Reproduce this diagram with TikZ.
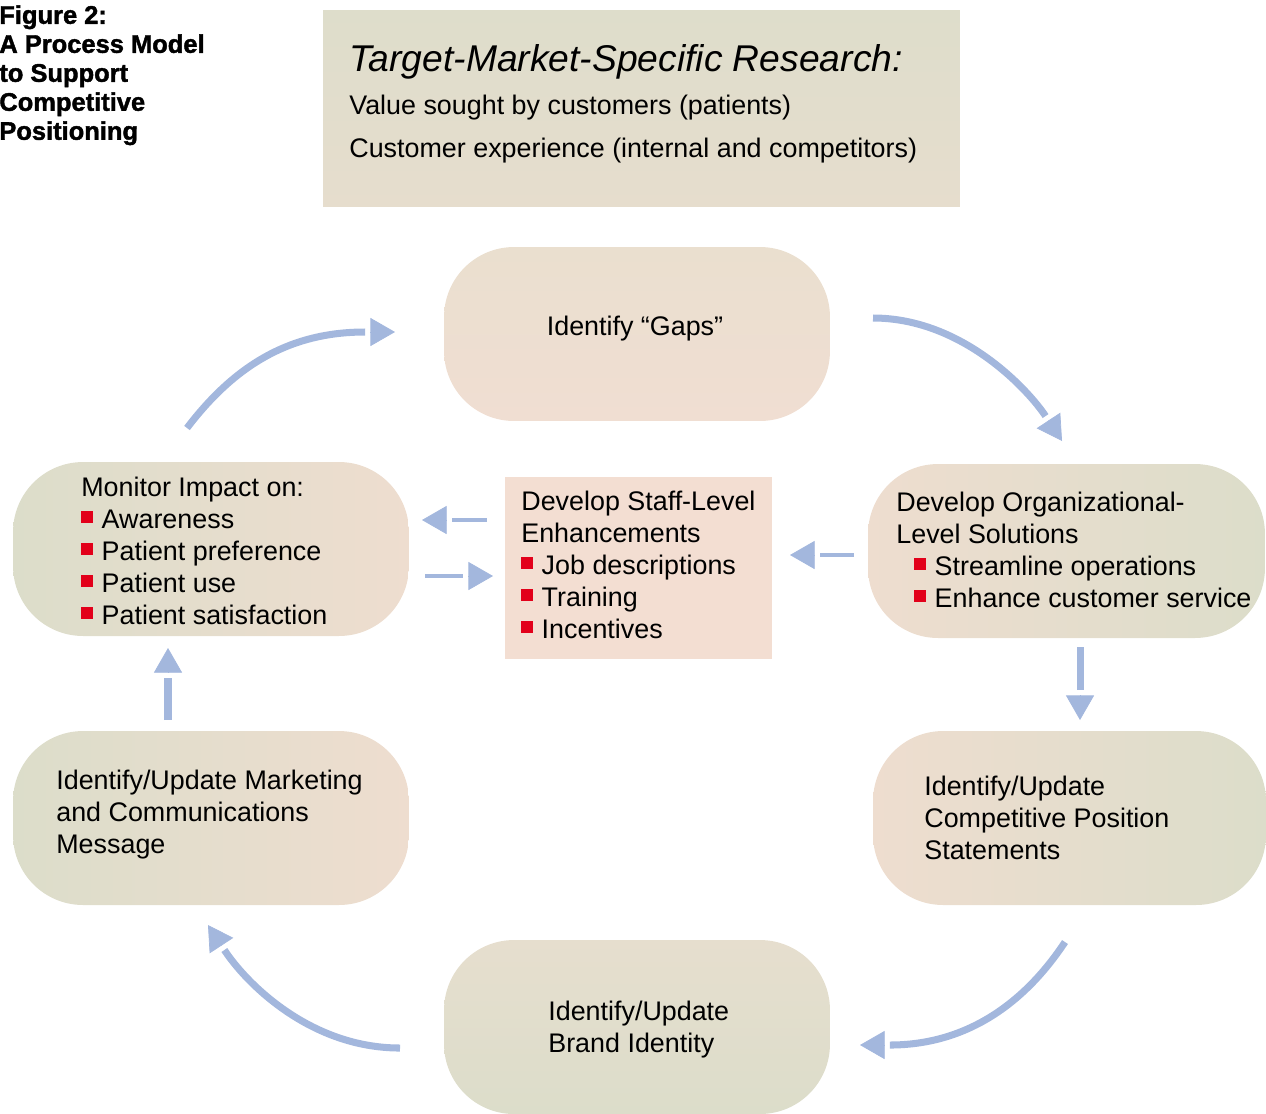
\documentclass[tikz,border=0pt]{standalone}
\usepackage{fontspec}
\setmainfont{Liberation Sans}
\newfontfamily\capfont{Liberation Sans Bold}[FakeBold=1.6]
\usetikzlibrary{arrows.meta,calc}

\definecolor{sage}{RGB}{220,221,202}
\definecolor{blush}{RGB}{238,221,207}
\definecolor{peach}{RGB}{243,222,210}
\definecolor{flowblue}{RGB}{163,183,221}
\definecolor{bulred}{RGB}{226,0,26}

\newcommand{\sqbul}{{\color{bulred}\rule[3.4pt]{6.6pt}{6.6pt}}\hspace{5pt}}

\begin{document}
\begin{tikzpicture}[x=0.02cm, y=-0.02cm,
    stage/.style={rounded corners=1.4cm, minimum width=7.72cm, minimum height=3.48cm, inner sep=0},
    txt/.style={font=\fontsize{15.3}{18.2}\selectfont, align=left, inner sep=0, anchor=west},
    cycleline/.style={draw=flowblue, line width=4pt, shorten >=17pt},
    sideline/.style={cycleline, line width=2.3pt},
    flowhead/.style={draw=flowblue, fill=flowblue, line width=0.4pt, -{Triangle[length=14pt, width=16pt]}}]
    \useasboundingbox (0,0) rectangle (1266,1113);

    % Caption
    \node[anchor=north west, inner sep=0, align=left, font=\capfont\fontsize{14.5}{16.5}\selectfont] (caption) at (-1,5)
        {Figure 2:\\A Process Model\\to Support\\Competitive\\Positioning};

    % Research box
    \node[minimum width=12.74cm, minimum height=3.94cm, inner sep=0, top color={rgb,255:red,222;green,221;blue,203}, bottom color={rgb,255:red,230;green,221;blue,205}] (research) at (641.5,108.5) {};
    \node[txt, font=\fontsize{15.3}{24.4}\selectfont] (researchtxt) at (349,104)
        {{\itshape\fontsize{21.2}{24}\selectfont Target-Market-Specific Research:}\\Value sought by customers (patients)\\Customer experience (internal and competitors)};

    % Process stages
    \node[stage, top color={rgb,255:red,234;green,223;blue,207}, bottom color={rgb,255:red,240;green,222;blue,210}] (gaps) at (637,334) {};
    \node[stage, minimum width=7.94cm, left color=blush, right color=sage] (org) at (1066.5,551) {};
    \node[stage, minimum width=7.86cm, left color=blush, right color=sage] (comp) at (1069.5,818) {};
    \node[stage, top color={rgb,255:red,230;green,222;blue,206}, bottom color=sage] (brand) at (637,1027) {};
    \node[stage, minimum width=7.92cm, left color=sage, right color=blush] (market) at (211,818) {};
    \node[stage, minimum width=7.92cm, left color=sage, right color=blush] (monitor) at (211,549) {};
    \node[fill=peach, minimum width=5.34cm, minimum height=3.64cm, inner sep=0] (staff) at (638.5,568) {};

    % Labels
    \node[txt, anchor=center] (gapstxt) at (635,329) {Identify “Gaps”};
    \node[txt] (orgtxt) at (896,550) {Develop Organizational-\\Level Solutions\\\hspace{0.36cm}\sqbul Streamline operations\\\hspace{0.36cm}\sqbul Enhance customer service};
    \node[txt] (comptxt) at (924,818) {Identify/Update\\Competitive Position\\Statements};
    \node[txt] (brandtxt) at (548,1030) {Identify/Update\\Brand Identity};
    \node[txt] (markettxt) at (56,815) {Identify/Update Marketing\\and Communications\\Message};
    \node[txt] (monitortxt) at (81,551) {Monitor Impact on:\\\sqbul Awareness\\\sqbul Patient preference\\\sqbul Patient use\\\sqbul Patient satisfaction};
    \node[txt] (stafftxt) at (521,565) {Develop Staff-Level\\Enhancements\\\sqbul Job descriptions\\\sqbul Training\\\sqbul Incentives};

    % Arrow ends
    \coordinate (monitor-out) at (187,428);
    \coordinate (gaps-in) at (395,332);
    \coordinate (gaps-out) at (873,318);
    \coordinate (org-in) at (1062,441);
    \coordinate (org-out) at (1080,647);
    \coordinate (comp-in) at (1080,720);
    \coordinate (comp-out) at (1065,942);
    \coordinate (brand-in) at (860,1045);
    \coordinate (brand-out) at (400,1048);
    \coordinate (market-in) at (208,925);
    \coordinate (market-out) at (168,720);
    \coordinate (monitor-in) at (168,648);
    \coordinate (staff-out) at (487,520);
    \coordinate (monitor-side) at (422,520);
    \coordinate (monitor-side-out) at (425,576);
    \coordinate (staff-in) at (493,576);
    \coordinate (org-side) at (854,555);
    \coordinate (staff-right) at (790,555);

    % Cycle arrows
    \draw[cycleline] (monitor-out) .. controls (235,365) and (290,332) .. (gaps-in);
    \draw[flowhead] ($(gaps-in)!14pt!(290,332)$) -- (gaps-in);
    \draw[cycleline] (gaps-out) .. controls (963,318) and (1029,391) .. (org-in);
    \draw[flowhead] ($(org-in)!14pt!(1029,391)$) -- (org-in);
    \draw[cycleline] (org-out) -- (comp-in);
    \draw[flowhead] ($(comp-in)!14pt!(org-out)$) -- (comp-in);
    \draw[cycleline] (comp-out) .. controls (1020,1010) and (960,1045) .. (brand-in);
    \draw[flowhead] ($(brand-in)!14pt!(960,1045)$) -- (brand-in);
    \draw[cycleline] (brand-out) .. controls (310,1048) and (246,983) .. (market-in);
    \draw[flowhead] ($(market-in)!14pt!(246,983)$) -- (market-in);
    \draw[cycleline] (market-out) -- (monitor-in);
    \draw[flowhead] ($(monitor-in)!14pt!(market-out)$) -- (monitor-in);

    % Staff arrows
    \draw[sideline] (staff-out) -- (monitor-side);
    \draw[flowhead] ($(monitor-side)!14pt!(staff-out)$) -- (monitor-side);
    \draw[sideline] (monitor-side-out) -- (staff-in);
    \draw[flowhead] ($(staff-in)!14pt!(monitor-side-out)$) -- (staff-in);
    \draw[sideline] (org-side) -- (staff-right);
    \draw[flowhead] ($(staff-right)!14pt!(org-side)$) -- (staff-right);
\end{tikzpicture}
\end{document}
